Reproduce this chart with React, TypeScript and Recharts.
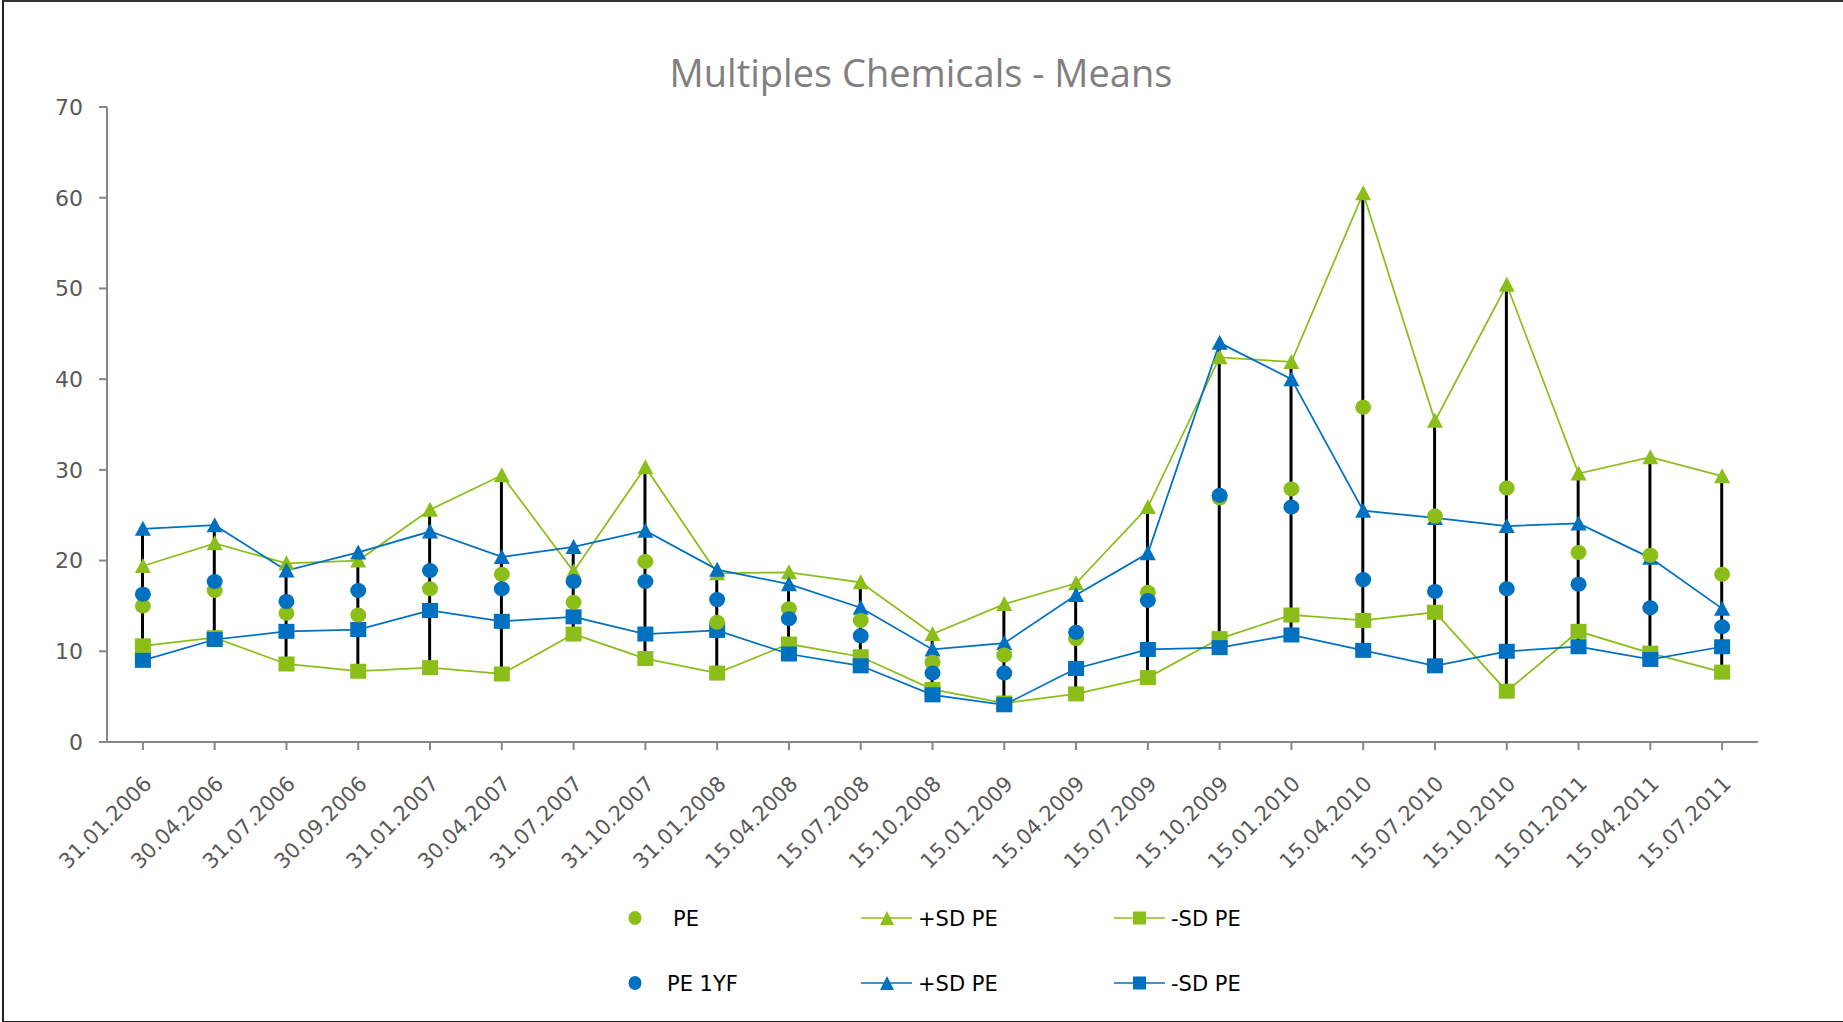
import { Bar, ComposedChart, Line, XAxis, YAxis } from "recharts";

const categories = [
  "31.01.2006", "30.04.2006", "31.07.2006", "30.09.2006", "31.01.2007", "30.04.2007",
  "31.07.2007", "31.10.2007", "31.01.2008", "15.04.2008", "15.07.2008", "15.10.2008",
  "15.01.2009", "15.04.2009", "15.07.2009", "15.10.2009", "15.01.2010", "15.04.2010",
  "15.07.2010", "15.10.2010", "15.01.2011", "15.04.2011", "15.07.2011",
];

const pe = [15.0, 16.7, 14.2, 14.0, 16.9, 18.5, 15.4, 19.9, 13.2, 14.7, 13.4, 8.8, 9.6, 11.4, 16.5, 26.9, 27.9, 36.9, 24.9, 28.0, 20.9, 20.6, 18.5];
const peUp = [19.4, 21.9, 19.7, 20.0, 25.6, 29.4, 18.8, 30.3, 18.6, 18.7, 17.6, 11.9, 15.2, 17.5, 25.9, 42.4, 41.9, 60.5, 35.4, 50.4, 29.6, 31.4, 29.3];
const peDown = [10.6, 11.5, 8.6, 7.8, 8.2, 7.5, 11.9, 9.2, 7.6, 10.8, 9.4, 5.8, 4.3, 5.3, 7.1, 11.4, 14.0, 13.4, 14.3, 5.6, 12.2, 9.8, 7.7];
const pe1yf = [16.3, 17.7, 15.5, 16.7, 18.9, 16.9, 17.7, 17.7, 15.7, 13.6, 11.7, 7.6, 7.6, 12.1, 15.6, 27.2, 25.9, 17.9, 16.6, 16.9, 17.4, 14.8, 12.7];
const pe1yfUp = [23.5, 23.9, 18.9, 20.9, 23.2, 20.4, 21.5, 23.3, 19.0, 17.4, 14.8, 10.2, 10.9, 16.2, 20.8, 44.0, 40.0, 25.5, 24.7, 23.8, 24.1, 20.3, 14.7];
const pe1yfDown = [9.0, 11.3, 12.2, 12.4, 14.5, 13.3, 13.8, 11.9, 12.3, 9.7, 8.4, 5.2, 4.1, 8.1, 10.2, 10.4, 11.8, 10.1, 8.4, 10.0, 10.5, 9.1, 10.5];

const yTicks = [0, 10, 20, 30, 40, 50, 60, 70];

const GREEN = "#8CBE1A";
const BLUE = "#0070C0";
const FONT = "'DejaVu Sans', sans-serif";

// high-low line spans every series at a date
const data = categories.map((date, i) => {
  const vals = [pe[i], peUp[i], peDown[i], pe1yf[i], pe1yfUp[i], pe1yfDown[i]];
  return {
    date,
    pe: pe[i],
    peUp: peUp[i],
    peDown: peDown[i],
    pe1yf: pe1yf[i],
    pe1yfUp: pe1yfUp[i],
    pe1yfDown: pe1yfDown[i],
    hiLo: [Math.min(...vals), Math.max(...vals)],
  };
});

const triangle = (color: string) => (p: any) => {
  if (p.cx == null || p.cy == null) return <g key={p.index} />;
  const { cx, cy } = p;
  return <path key={p.index} d={`M${cx},${cy - 8}L${cx + 8},${cy + 7}L${cx - 8},${cy + 7}Z`} fill={color} />;
};

const square = (color: string) => (p: any) => {
  if (p.cx == null || p.cy == null) return <g key={p.index} />;
  return <rect key={p.index} x={p.cx - 8} y={p.cy - 7.5} width={16} height={15} fill={color} />;
};

const circle = (color: string) => (p: any) => {
  if (p.cx == null || p.cy == null) return <g key={p.index} />;
  return <ellipse key={p.index} cx={p.cx} cy={p.cy} rx={8} ry={7.5} fill={color} />;
};

const DateTick = (props: any) => {
  const { x, y, payload } = props;
  const px = x + 10;
  const py = y + 35;
  return (
    <text
      x={px}
      y={py}
      transform={`rotate(-45, ${px}, ${py})`}
      textAnchor="end"
      fill="#595959"
      fontSize={21}
      fontFamily={FONT}
    >
      {payload.value}
    </text>
  );
};

const legendRows = [
  { y: 918, color: GREEN, label: "PE", labelX: 673 },
  { y: 983, color: BLUE, label: "PE 1YF", labelX: 667 },
];

const App = () => {
  return (
    <div style={{ position: "absolute", left: 0, top: 0, width: 1843, height: 1022, background: "#fff" }}>
      <ComposedChart
        width={1843}
        height={1022}
        data={data}
        margin={{ top: 107, right: 85, bottom: 130, left: 0 }}
      >
        <XAxis
          dataKey="date"
          interval={0}
          tick={<DateTick />}
          tickSize={8}
          tickMargin={0}
          height={150}
          stroke="#868686"
          strokeWidth={2}
        />
        <YAxis
          domain={[0, 70]}
          ticks={yTicks}
          width={107}
          tickSize={8}
          tickMargin={16}
          stroke="#868686"
          strokeWidth={2}
          tick={{ fill: "#595959", fontSize: 22, fontFamily: FONT }}
        />
        <Line dataKey="peUp" stroke={GREEN} strokeWidth={1.75} dot={triangle(GREEN)} activeDot={false} isAnimationActive={false} />
        <Line dataKey="peDown" stroke={GREEN} strokeWidth={1.75} dot={square(GREEN)} activeDot={false} isAnimationActive={false} />
        <Line dataKey="pe1yfUp" stroke={BLUE} strokeWidth={1.75} dot={triangle(BLUE)} activeDot={false} isAnimationActive={false} />
        <Line dataKey="pe1yfDown" stroke={BLUE} strokeWidth={1.75} dot={square(BLUE)} activeDot={false} isAnimationActive={false} />
        <Bar dataKey="hiLo" barSize={3} fill="#000" isAnimationActive={false} />
        <Line dataKey="pe" stroke="none" dot={circle(GREEN)} activeDot={false} isAnimationActive={false} />
        <Line dataKey="pe1yf" stroke="none" dot={circle(BLUE)} activeDot={false} isAnimationActive={false} />
      </ComposedChart>

      <svg
        width={1843}
        height={1022}
        style={{ position: "absolute", left: 0, top: 0, pointerEvents: "none" }}
      >
        <text x={921} y={87} textAnchor="middle" fill="#808080" fontSize={38} fontFamily="'Open Sans', sans-serif">
          Multiples Chemicals - Means
        </text>
        {legendRows.map((r) => (
          <g key={r.label}>
            <ellipse cx={635} cy={r.y} rx={6.5} ry={7} fill={r.color} />
            <text x={r.labelX} y={r.y + 7.5} fill="#000" fontSize={21} fontFamily={FONT}>
              {r.label}
            </text>
            <line x1={861} x2={912} y1={r.y} y2={r.y} stroke={r.color} strokeWidth={2} opacity={0.75} />
            <path d={`M887,${r.y - 7}L894,${r.y + 7}L880,${r.y + 7}Z`} fill={r.color} />
            <text x={918} y={r.y + 7.5} fill="#000" fontSize={21} fontFamily={FONT}>
              +SD PE
            </text>
            <line x1={1114} x2={1165} y1={r.y} y2={r.y} stroke={r.color} strokeWidth={2} opacity={0.75} />
            <rect x={1133} y={r.y - 6.5} width={13} height={13} fill={r.color} />
            <text x={1171} y={r.y + 7.5} fill="#000" fontSize={21} fontFamily={FONT}>
              -SD PE
            </text>
          </g>
        ))}
      </svg>

      <div
        style={{
          position: "absolute",
          left: 2,
          top: 0,
          width: 1843,
          height: 1019,
          borderTop: "2px solid #333",
          borderLeft: "2px solid #222",
          borderBottom: "2px solid #222",
          pointerEvents: "none",
        }}
      />
    </div>
  );
};

export default App;
